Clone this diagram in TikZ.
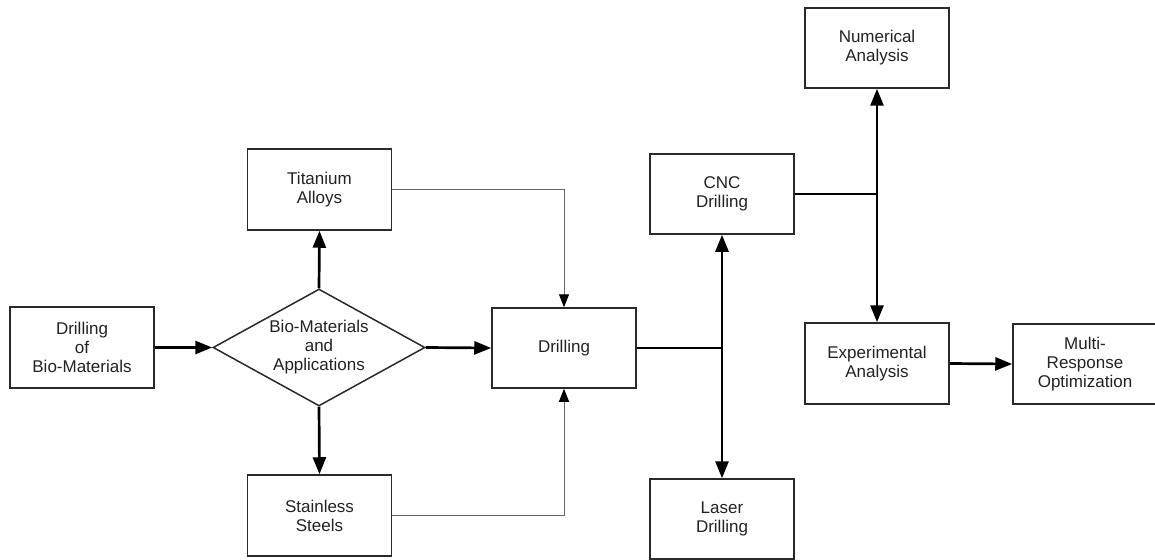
\documentclass[tikz,border=0pt]{standalone}
\usepackage{fontspec}
\setmainfont{Liberation Sans}
\usetikzlibrary{shapes.geometric,arrows.meta}
\definecolor{boxline}{HTML}{2A2A2A}
\definecolor{txt}{HTML}{222222}
\definecolor{thinline}{HTML}{666666}
\tikzset{
  x=1pt,y=-1pt,
  box/.style={draw=boxline,line width=1.5pt,rectangle,minimum width=144pt,minimum height=81pt,inner sep=0pt,align=center,text=txt,font=\fontsize{17pt}{19pt}\selectfont},
  dia/.style={draw=boxline,line width=1.5pt,diamond,aspect=1.81,minimum width=212pt,minimum height=117pt,inner sep=0pt,align=center,text=txt,font=\fontsize{17pt}{19pt}\selectfont},
  thick arrow/.style={line width=2.7pt,black,-{Triangle[length=17pt,width=13pt]}},
  thick line/.style={line width=2.7pt,black},
  thin arrow/.style={line width=1pt,thinline,-{Triangle[length=13pt,width=10pt,color=black]}}
}
\begin{document}
\begin{tikzpicture}
\useasboundingbox (0,0) rectangle (1155,559);
\node[box] (bio) at (82,347.5) {Drilling\\of\\Bio-Materials};
\node[dia] (dm) at (319,347.5) {Bio-Materials\\and\\Applications};
\node[box] (tit) at (319.5,189.5) {Titanium\\Alloys};
\node[box] (sta) at (319.5,515.5) {Stainless\\Steels};
\node[box,minimum height=80pt] (drl) at (564,348) {Drilling};
\node[box,minimum height=80pt] (cnc) at (722,194) {CNC\\Drilling};
\node[box,minimum height=80pt] (las) at (722,519) {Laser\\Drilling};
\node[box,minimum height=80pt] (num) at (877,48) {Numerical\\Analysis};
\node[box] (exp) at (877,363.5) {Experimental\\Analysis};
\node[box,minimum height=80pt] (mro) at (1085,364) {Multi-\\Response\\Optimization};
\coordinate (j1) at (722,348);
\coordinate (j2) at (877,194);
\draw[thick arrow] (bio.east) -- (dm.west);
\draw[thick arrow] (dm.north) -- (tit.south);
\draw[thick arrow] (dm.south) -- (sta.north);
\draw[thick arrow] (dm.east) -- (drl.west);
\draw[thin arrow] (tit.east) -| (drl.north);
\draw[thin arrow] (sta.east) -| (drl.south);
\draw[thick line] (drl.east) -- (j1);
\draw[thick arrow] (j1) -- (cnc.south);
\draw[thick arrow] (j1) -- (las.north);
\draw[thick line] (cnc.east) -- (j2);
\draw[thick arrow] (j2) -- (num.south);
\draw[thick arrow] (j2) -- (exp.north);
\draw[thick arrow] (exp.east) -- (mro.west);
\end{tikzpicture}
\end{document}
